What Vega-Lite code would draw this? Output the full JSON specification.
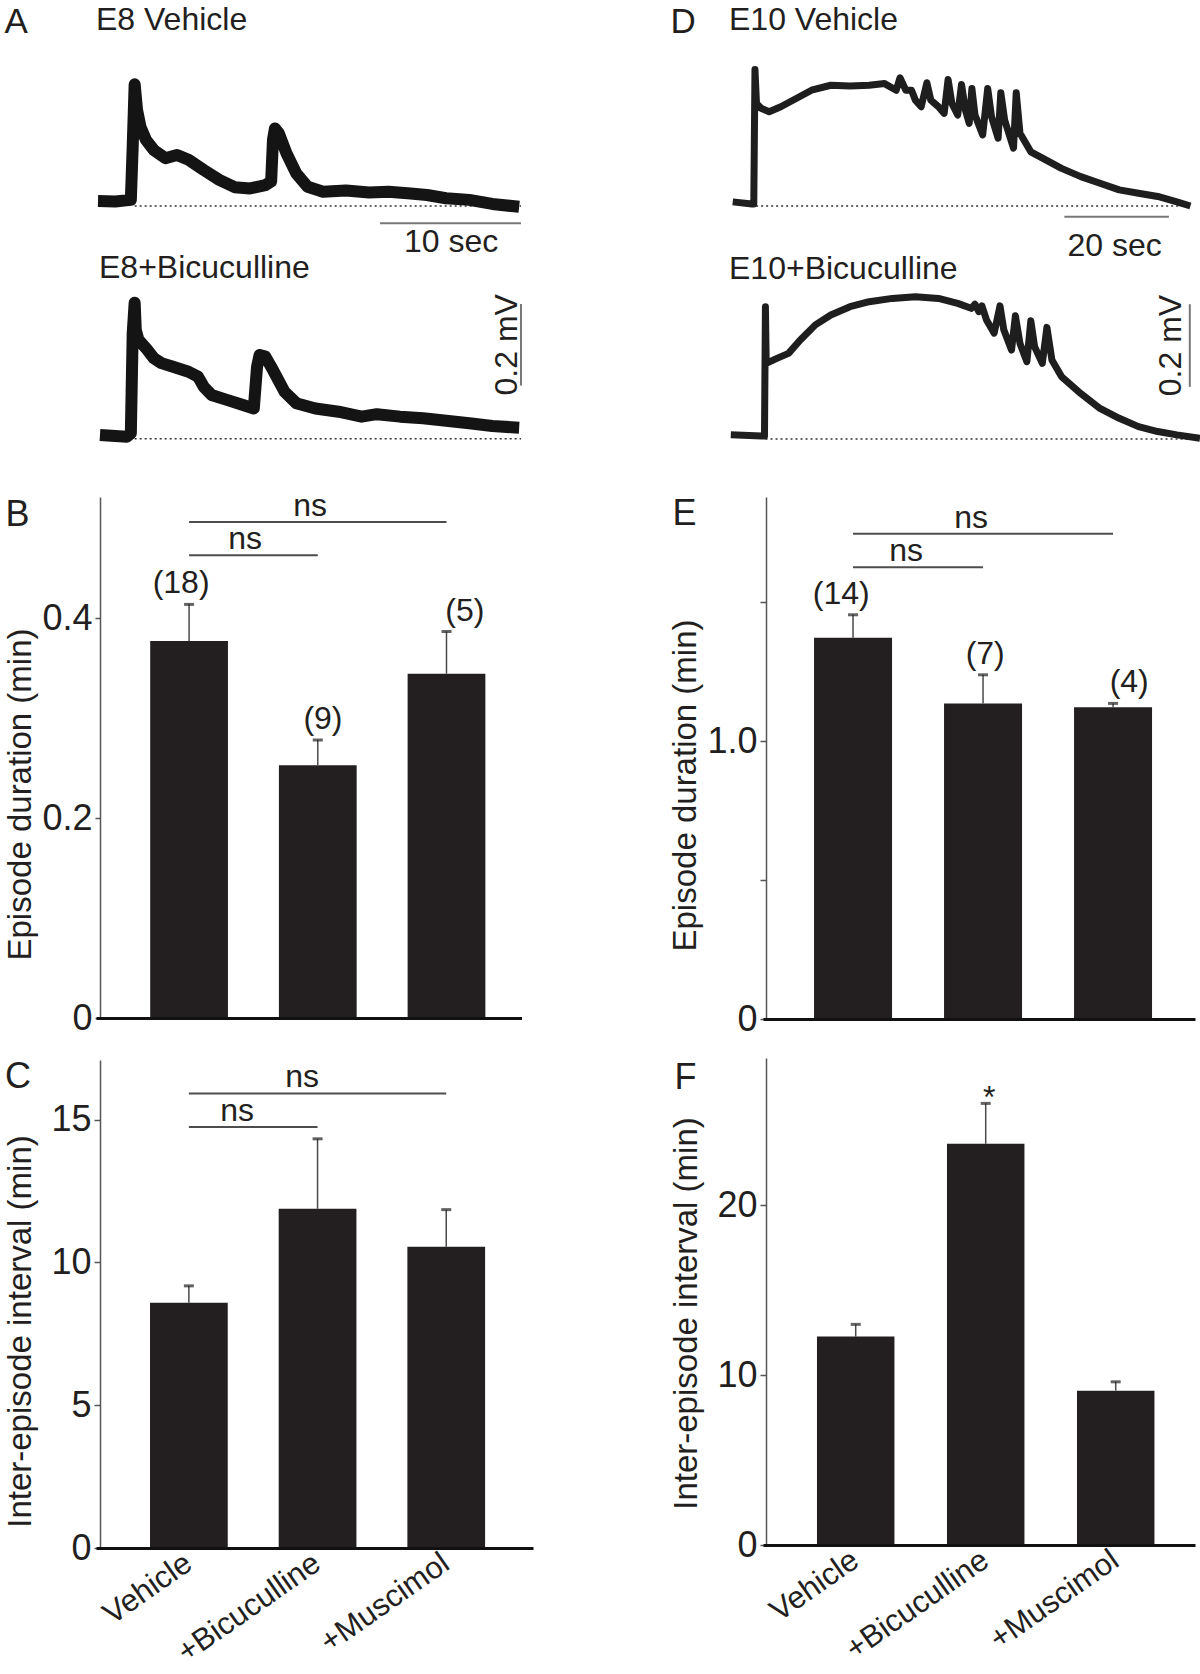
{
"$schema": "https://vega.github.io/schema/vega-lite/v6.json",
"width": 1200, "height": 1674,
"autosize": {"type": "none"},
"padding": 0,
"background": "#ffffff",
"config": {
  "view": {"stroke": null},
  "axis": {"grid": false, "labelFont": "Liberation Sans", "titleFont": "Liberation Sans", "labelColor": "#231f20", "titleColor": "#231f20", "titleFontWeight": "normal", "labelFontWeight": "normal", "titleLimit": 2000, "labelLimit": 1000},
  "text": {"font": "Liberation Sans", "color": "#231f20"}
},
"datasets": {
  "A1": [{"t":0,"v":0.012},{"t":1.23,"v":0.011},{"t":2.33,"v":0.015},{"t":2.46,"v":0.145},{"t":2.6,"v":0.298},{"t":2.77,"v":0.235},{"t":3.01,"v":0.194},{"t":3.4,"v":0.162},{"t":3.96,"v":0.137},{"t":4.78,"v":0.117},{"t":5.6,"v":0.125},{"t":6.42,"v":0.113},{"t":7.5,"v":0.088},{"t":8.6,"v":0.064},{"t":9.69,"v":0.046},{"t":10.78,"v":0.043},{"t":11.87,"v":0.051},{"t":12.28,"v":0.06},{"t":12.41,"v":0.162},{"t":12.55,"v":0.19},{"t":12.82,"v":0.178},{"t":13.37,"v":0.129},{"t":14.06,"v":0.08},{"t":14.87,"v":0.047},{"t":15.96,"v":0.035},{"t":17.59,"v":0.038},{"t":19.23,"v":0.033},{"t":20.6,"v":0.035},{"t":21.96,"v":0.031},{"t":23.33,"v":0.027},{"t":24.68,"v":0.019},{"t":26.33,"v":0.015},{"t":27.96,"v":0.005},{"t":29.87,"v":-0.002}],
  "A2": [{"t":0.14,"v":0.009},{"t":2.05,"v":0.005},{"t":2.33,"v":0.013},{"t":2.46,"v":0.258},{"t":2.6,"v":0.333},{"t":2.68,"v":0.266},{"t":2.87,"v":0.242},{"t":3.42,"v":0.221},{"t":3.96,"v":0.197},{"t":4.5,"v":0.185},{"t":5.32,"v":0.176},{"t":6.42,"v":0.164},{"t":7.09,"v":0.152},{"t":7.5,"v":0.127},{"t":8.05,"v":0.107},{"t":9.14,"v":0.095},{"t":10.23,"v":0.083},{"t":11.05,"v":0.074},{"t":11.28,"v":0.176},{"t":11.46,"v":0.205},{"t":11.87,"v":0.201},{"t":12.41,"v":0.168},{"t":13.23,"v":0.115},{"t":14.06,"v":0.087},{"t":15.42,"v":0.074},{"t":17.06,"v":0.066},{"t":18.69,"v":0.054},{"t":19.78,"v":0.06},{"t":21.42,"v":0.054},{"t":23.05,"v":0.05},{"t":24.7,"v":0.044},{"t":26.33,"v":0.038},{"t":27.96,"v":0.031},{"t":29.87,"v":0.027}],
  "D1": [{"t":0.52,"v":0.01},{"t":4.19,"v":0.005},{"t":4.55,"v":0.005},{"t":4.78,"v":0.33},{"t":5.07,"v":0.248},{"t":6.03,"v":0.236},{"t":7.5,"v":0.228},{"t":9.72,"v":0.24},{"t":12.67,"v":0.26},{"t":15.6,"v":0.28},{"t":19.29,"v":0.292},{"t":22.97,"v":0.29},{"t":26.64,"v":0.292},{"t":29.59,"v":0.296},{"t":31.81,"v":0.28},{"t":32.54,"v":0.31},{"t":33.65,"v":0.28},{"t":34.74,"v":0.28},{"t":35.48,"v":0.256},{"t":36.59,"v":0.24},{"t":37.68,"v":0.298},{"t":38.43,"v":0.256},{"t":39.9,"v":0.24},{"t":40.99,"v":0.224},{"t":41.74,"v":0.306},{"t":42.47,"v":0.248},{"t":43.58,"v":0.22},{"t":44.31,"v":0.294},{"t":45.05,"v":0.232},{"t":45.78,"v":0.2},{"t":46.3,"v":0.284},{"t":46.89,"v":0.22},{"t":48.36,"v":0.172},{"t":49.32,"v":0.284},{"t":50.05,"v":0.216},{"t":51.31,"v":0.164},{"t":51.83,"v":0.274},{"t":52.56,"v":0.208},{"t":54.26,"v":0.14},{"t":54.78,"v":0.274},{"t":55.5,"v":0.176},{"t":57.57,"v":0.131},{"t":60.52,"v":0.111},{"t":63.44,"v":0.091},{"t":67.14,"v":0.071},{"t":70.81,"v":0.055},{"t":74.49,"v":0.039},{"t":78.18,"v":0.031},{"t":81.86,"v":0.023},{"t":85.53,"v":0.01},{"t":88.12,"v":0}],
  "D2": [{"t":0.15,"v":0.01},{"t":6.03,"v":0.007},{"t":6.6,"v":0.007},{"t":6.78,"v":0.32},{"t":6.93,"v":0.183},{"t":8.98,"v":0.195},{"t":11.2,"v":0.207},{"t":13.4,"v":0.239},{"t":16.34,"v":0.276},{"t":19.29,"v":0.3},{"t":22.97,"v":0.32},{"t":26.64,"v":0.332},{"t":31.06,"v":0.34},{"t":35.48,"v":0.344},{"t":39.9,"v":0.34},{"t":43.58,"v":0.328},{"t":46.16,"v":0.316},{"t":46.89,"v":0.326},{"t":47.62,"v":0.308},{"t":48.21,"v":0.322},{"t":49.09,"v":0.288},{"t":50.56,"v":0.256},{"t":51.67,"v":0.322},{"t":52.4,"v":0.264},{"t":53.88,"v":0.215},{"t":54.62,"v":0.298},{"t":55.5,"v":0.231},{"t":56.82,"v":0.187},{"t":57.57,"v":0.286},{"t":58.3,"v":0.223},{"t":59.77,"v":0.183},{"t":60.65,"v":0.27},{"t":61.61,"v":0.191},{"t":63.44,"v":0.151},{"t":67.14,"v":0.11},{"t":70.81,"v":0.074},{"t":74.49,"v":0.05},{"t":78.18,"v":0.03},{"t":81.86,"v":0.018},{"t":85.53,"v":0.01},{"t":89.95,"v":0.002}],
  "B": [{"cond":"Vehicle","mean":0.377,"hi":0.4136,"n":"(18)"},{"cond":"+Bicuculline","mean":0.2528,"hi":0.278,"n":"(9)"},{"cond":"+Muscimol","mean":0.3443,"hi":0.3865,"n":"(5)"}],
  "E": [{"cond":"Vehicle","mean":1.372,"hi":1.455,"n":"(14)"},{"cond":"+Bicuculline","mean":1.136,"hi":1.239,"n":"(7)"},{"cond":"+Muscimol","mean":1.122,"hi":1.136,"n":"(4)"}],
  "C": [{"cond":"Vehicle","mean":8.59,"hi":9.18},{"cond":"+Bicuculline","mean":11.88,"hi":14.33},{"cond":"+Muscimol","mean":10.55,"hi":11.85}],
  "F": [{"cond":"Vehicle","mean":12.26,"hi":12.98,"sig":""},{"cond":"+Bicuculline","mean":23.6,"hi":25.98,"sig":"*"},{"cond":"+Muscimol","mean":9.08,"hi":9.6,"sig":""}],
  "Bbr": [{"from":"Vehicle","to":"+Bicuculline","level":0.4628,"label":"ns"},{"from":"Vehicle","to":"+Muscimol","level":0.496,"label":"ns"}],
  "Ebr": [{"from":"Vehicle","to":"+Bicuculline","level":1.626,"label":"ns"},{"from":"Vehicle","to":"+Muscimol","level":1.747,"label":"ns"}],
  "Cbr": [{"from":"Vehicle","to":"+Bicuculline","level":14.74,"label":"ns"},{"from":"Vehicle","to":"+Muscimol","level":15.92,"label":"ns"}]
},
"layer": [
  {"data": {"values": [{"t0": 2.6, "t1": 30, "v": 0}]},
   "mark": {"type": "rule", "strokeDash": [2, 3], "strokeWidth": 1.5, "color": "#333333"},
   "encoding": {
     "x": {"field": "t0", "type": "quantitative", "scale": {"domain": [0, 30], "range": [98, 521], "nice": false, "zero": false},
           "axis": {"orient": "top", "domain": false, "ticks": false, "labels": false, "title": "E8 Vehicle", "titleX": 95.5, "titleY": 29, "titleAngle": 0, "titleAlign": "left", "titleBaseline": "alphabetic", "titleFontSize": 32}},
     "x2": {"field": "t1"},
     "y": {"field": "v", "type": "quantitative", "scale": {"domain": [0, 0.4], "range": [206, 42.6], "nice": false, "zero": false},
           "axis": {"orient": "left", "domain": false, "ticks": false, "labels": false, "title": "A", "titleX": 4, "titleY": 32, "titleAngle": 0, "titleAlign": "left", "titleBaseline": "alphabetic", "titleFontSize": 35}}
   }},
  {"data": {"name": "A1"},
   "mark": {"type": "line", "color": "#141414", "strokeWidth": 12, "strokeJoin": "round"},
   "encoding": {
     "x": {"field": "t", "type": "quantitative", "scale": {"domain": [0, 30], "range": [98, 521], "nice": false, "zero": false}, "axis": null},
     "y": {"field": "v", "type": "quantitative", "scale": {"domain": [0, 0.4], "range": [206, 42.6], "nice": false, "zero": false}, "axis": null}}},
  {"data": {"values": [{"t0": 20, "t1": 30, "v": -0.0424, "label": "10 sec"}]},
   "mark": {"type": "rule", "color": "#777777", "strokeWidth": 2},
   "encoding": {
     "x": {"field": "t0", "type": "quantitative", "scale": {"domain": [0, 30], "range": [98, 521], "nice": false, "zero": false}, "axis": null},
     "x2": {"field": "t1"},
     "y": {"field": "v", "type": "quantitative", "scale": {"domain": [0, 0.4], "range": [206, 42.6], "nice": false, "zero": false}, "axis": null}}},
  {"data": {"values": [{"t0": 20, "t1": 30, "v": -0.0424, "label": "10 sec"}]},
   "mark": {"type": "text", "fontSize": 32, "align": "left", "baseline": "alphabetic", "dx": 24, "dy": 29},
   "encoding": {
     "x": {"field": "t0", "type": "quantitative", "scale": {"domain": [0, 30], "range": [98, 521], "nice": false, "zero": false}, "axis": null},
     "y": {"field": "v", "type": "quantitative", "scale": {"domain": [0, 0.4], "range": [206, 42.6], "nice": false, "zero": false}, "axis": null},
     "text": {"field": "label"}}},

  {"data": {"values": [{"t0": 2.6, "t1": 30, "v": 0}]},
   "mark": {"type": "rule", "strokeDash": [2, 3], "strokeWidth": 1.5, "color": "#333333"},
   "encoding": {
     "x": {"field": "t0", "type": "quantitative", "scale": {"domain": [0, 30], "range": [98, 521], "nice": false, "zero": false},
           "axis": {"orient": "top", "domain": false, "ticks": false, "labels": false, "title": "E8+Bicuculline", "titleX": 98.5, "titleY": 277, "titleAngle": 0, "titleAlign": "left", "titleBaseline": "alphabetic", "titleFontSize": 32}},
     "x2": {"field": "t1"},
     "y": {"field": "v", "type": "quantitative", "scale": {"domain": [0, 0.4], "range": [438.7, 275.3], "nice": false, "zero": false}, "axis": null}}},
  {"data": {"name": "A2"},
   "mark": {"type": "line", "color": "#141414", "strokeWidth": 12, "strokeJoin": "round"},
   "encoding": {
     "x": {"field": "t", "type": "quantitative", "scale": {"domain": [0, 30], "range": [98, 521], "nice": false, "zero": false}, "axis": null},
     "y": {"field": "v", "type": "quantitative", "scale": {"domain": [0, 0.4], "range": [438.7, 275.3], "nice": false, "zero": false}, "axis": null}}},
  {"data": {"values": [{"t": 30, "v0": 0.13, "v1": 0.33, "vmid": 0.23, "label": "0.2 mV"}]},
   "mark": {"type": "rule", "color": "#777777", "strokeWidth": 2},
   "encoding": {
     "x": {"field": "t", "type": "quantitative", "scale": {"domain": [0, 30], "range": [98, 521], "nice": false, "zero": false}, "axis": null},
     "y": {"field": "v0", "type": "quantitative", "scale": {"domain": [0, 0.4], "range": [438.7, 275.3], "nice": false, "zero": false}, "axis": null},
     "y2": {"field": "v1"}}},
  {"data": {"values": [{"t": 30, "v0": 0.13, "v1": 0.33, "vmid": 0.23, "label": "0.2 mV"}]},
   "mark": {"type": "text", "fontSize": 32, "angle": 270, "align": "center", "baseline": "alphabetic", "dy": -4},
   "encoding": {
     "x": {"field": "t", "type": "quantitative", "scale": {"domain": [0, 30], "range": [98, 521], "nice": false, "zero": false}, "axis": null},
     "y": {"field": "vmid", "type": "quantitative", "scale": {"domain": [0, 0.4], "range": [438.7, 275.3], "nice": false, "zero": false}, "axis": null},
     "text": {"field": "label"}}},

  {"data": {"values": [{"t0": 5, "t1": 88, "v": 0}]},
   "mark": {"type": "rule", "strokeDash": [2, 3], "strokeWidth": 1.5, "color": "#333333"},
   "encoding": {
     "x": {"field": "t0", "type": "quantitative", "scale": {"domain": [0, 90], "range": [730, 1200.25], "nice": false, "zero": false},
           "axis": {"orient": "top", "domain": false, "ticks": false, "labels": false, "title": "E10 Vehicle", "titleX": 728.5, "titleY": 29, "titleAngle": 0, "titleAlign": "left", "titleBaseline": "alphabetic", "titleFontSize": 32}},
     "x2": {"field": "t1"},
     "y": {"field": "v", "type": "quantitative", "scale": {"domain": [0, 0.4], "range": [206, 40.6], "nice": false, "zero": false},
           "axis": {"orient": "left", "domain": false, "ticks": false, "labels": false, "title": "D", "titleX": 670, "titleY": 32, "titleAngle": 0, "titleAlign": "left", "titleBaseline": "alphabetic", "titleFontSize": 35}}}},
  {"data": {"name": "D1"},
   "mark": {"type": "line", "color": "#1e1e1e", "strokeWidth": 7, "strokeJoin": "round"},
   "encoding": {
     "x": {"field": "t", "type": "quantitative", "scale": {"domain": [0, 90], "range": [730, 1200.25], "nice": false, "zero": false}, "axis": null},
     "y": {"field": "v", "type": "quantitative", "scale": {"domain": [0, 0.4], "range": [206, 40.6], "nice": false, "zero": false}, "axis": null}}},
  {"data": {"values": [{"t0": 64, "t1": 84, "v": -0.026, "label": "20 sec"}]},
   "mark": {"type": "rule", "color": "#777777", "strokeWidth": 2},
   "encoding": {
     "x": {"field": "t0", "type": "quantitative", "scale": {"domain": [0, 90], "range": [730, 1200.25], "nice": false, "zero": false}, "axis": null},
     "x2": {"field": "t1"},
     "y": {"field": "v", "type": "quantitative", "scale": {"domain": [0, 0.4], "range": [206, 40.6], "nice": false, "zero": false}, "axis": null}}},
  {"data": {"values": [{"t0": 64, "t1": 84, "v": -0.026, "label": "20 sec"}]},
   "mark": {"type": "text", "fontSize": 32, "align": "left", "baseline": "alphabetic", "dx": 3, "dy": 39},
   "encoding": {
     "x": {"field": "t0", "type": "quantitative", "scale": {"domain": [0, 90], "range": [730, 1200.25], "nice": false, "zero": false}, "axis": null},
     "y": {"field": "v", "type": "quantitative", "scale": {"domain": [0, 0.4], "range": [206, 40.6], "nice": false, "zero": false}, "axis": null},
     "text": {"field": "label"}}},

  {"data": {"values": [{"t0": 6.8, "t1": 89.9, "v": 0}]},
   "mark": {"type": "rule", "strokeDash": [2, 3], "strokeWidth": 1.5, "color": "#333333"},
   "encoding": {
     "x": {"field": "t0", "type": "quantitative", "scale": {"domain": [0, 90], "range": [730, 1200.25], "nice": false, "zero": false},
           "axis": {"orient": "top", "domain": false, "ticks": false, "labels": false, "title": "E10+Bicuculline", "titleX": 728.5, "titleY": 278, "titleAngle": 0, "titleAlign": "left", "titleBaseline": "alphabetic", "titleFontSize": 32}},
     "x2": {"field": "t1"},
     "y": {"field": "v", "type": "quantitative", "scale": {"domain": [0, 0.4], "range": [439, 273.6], "nice": false, "zero": false}, "axis": null}}},
  {"data": {"name": "D2"},
   "mark": {"type": "line", "color": "#1e1e1e", "strokeWidth": 7, "strokeJoin": "round"},
   "encoding": {
     "x": {"field": "t", "type": "quantitative", "scale": {"domain": [0, 90], "range": [730, 1200.25], "nice": false, "zero": false}, "axis": null},
     "y": {"field": "v", "type": "quantitative", "scale": {"domain": [0, 0.4], "range": [439, 273.6], "nice": false, "zero": false}, "axis": null}}},
  {"data": {"values": [{"t": 88, "v0": 0.126, "v1": 0.326, "vmid": 0.226, "label": "0.2 mV"}]},
   "mark": {"type": "rule", "color": "#777777", "strokeWidth": 2},
   "encoding": {
     "x": {"field": "t", "type": "quantitative", "scale": {"domain": [0, 90], "range": [730, 1200.25], "nice": false, "zero": false}, "axis": null},
     "y": {"field": "v0", "type": "quantitative", "scale": {"domain": [0, 0.4], "range": [439, 273.6], "nice": false, "zero": false}, "axis": null},
     "y2": {"field": "v1"}}},
  {"data": {"values": [{"t": 88, "v0": 0.126, "v1": 0.326, "vmid": 0.226, "label": "0.2 mV"}]},
   "mark": {"type": "text", "fontSize": 32, "angle": 270, "align": "center", "baseline": "alphabetic", "dy": -9},
   "encoding": {
     "x": {"field": "t", "type": "quantitative", "scale": {"domain": [0, 90], "range": [730, 1200.25], "nice": false, "zero": false}, "axis": null},
     "y": {"field": "vmid", "type": "quantitative", "scale": {"domain": [0, 0.4], "range": [439, 273.6], "nice": false, "zero": false}, "axis": null},
     "text": {"field": "label"}}},

  {"data": {"name": "B"},
   "mark": {"type": "bar", "color": "#231f20"},
   "encoding": {
     "x": {"field": "cond", "type": "nominal", "sort": null,
           "scale": {"domain": ["Vehicle", "+Bicuculline", "+Muscimol"], "range": [96, 521.5], "paddingInner": 0.396, "paddingOuter": 0.351, "align": 0.6},
           "axis": {"orient": "bottom", "offset": -656, "labels": false, "ticks": false, "domainColor": "#111111", "domainWidth": 3, "zindex": 1, "title": "B", "titleX": 5, "titleY": -492.5, "titleAngle": 0, "titleAlign": "left", "titleBaseline": "alphabetic", "titleFontSize": 36}},
     "y": {"field": "mean", "type": "quantitative",
           "scale": {"domain": [0, 0.521], "range": [1018, 497], "nice": false, "zero": false},
           "axis": {"orient": "left", "offset": -100, "values": [0, 0.2, 0.4], "labelExpr": "datum.value == 0 ? '0' : format(datum.value, '.1f')", "tickSize": 5, "labelPadding": 3, "labelFontSize": 36, "domainColor": "#555555", "domainWidth": 1.5, "tickColor": "#555555", "tickWidth": 1.5, "title": "Episode duration (min)", "titleFontSize": 33, "titleAngle": 270, "titleX": -70, "titleY": 794, "titleAlign": "center", "titleBaseline": "alphabetic"}}}},
  {"data": {"name": "B"},
   "mark": {"type": "rule", "color": "#4a4a4a", "strokeWidth": 1.5},
   "encoding": {
     "x": {"field": "cond", "type": "nominal", "sort": null, "scale": {"domain": ["Vehicle", "+Bicuculline", "+Muscimol"], "range": [96, 521.5], "paddingInner": 0.396, "paddingOuter": 0.351, "align": 0.6}, "axis": null},
     "y": {"field": "mean", "type": "quantitative", "scale": {"domain": [0, 0.521], "range": [1018, 497], "nice": false, "zero": false}, "axis": null},
     "y2": {"field": "hi"}}},
  {"data": {"name": "B"},
   "mark": {"type": "tick", "color": "#231f20", "thickness": 3, "size": 10, "orient": "horizontal"},
   "encoding": {
     "x": {"field": "cond", "type": "nominal", "sort": null, "scale": {"domain": ["Vehicle", "+Bicuculline", "+Muscimol"], "range": [96, 521.5], "paddingInner": 0.396, "paddingOuter": 0.351, "align": 0.6}, "axis": null},
     "y": {"field": "hi", "type": "quantitative", "scale": {"domain": [0, 0.521], "range": [1018, 497], "nice": false, "zero": false}, "axis": null}}},
  {"data": {"name": "B"},
   "mark": {"type": "text", "fontSize": 32, "dy": -11, "baseline": "alphabetic", "align": "center"},
   "encoding": {
     "x": {"field": "cond", "type": "nominal", "sort": null, "scale": {"domain": ["Vehicle", "+Bicuculline", "+Muscimol"], "range": [96, 521.5], "paddingInner": 0.396, "paddingOuter": 0.351, "align": 0.6}, "axis": null},
     "y": {"field": "hi", "type": "quantitative", "scale": {"domain": [0, 0.521], "range": [1018, 497], "nice": false, "zero": false}, "axis": null},
     "text": {"field": "n"}}},
  {"data": {"name": "Bbr"},
   "mark": {"type": "rule", "color": "#4d4d4d", "strokeWidth": 2},
   "encoding": {
     "x": {"field": "from", "type": "nominal", "scale": {"domain": ["Vehicle", "+Bicuculline", "+Muscimol"], "range": [96, 521.5], "paddingInner": 0.396, "paddingOuter": 0.351, "align": 0.6}, "axis": null},
     "x2": {"field": "to"},
     "y": {"field": "level", "type": "quantitative", "scale": {"domain": [0, 0.521], "range": [1018, 497], "nice": false, "zero": false}, "axis": null}}},
  {"data": {"name": "Bbr"},
   "transform": [{"filter": "datum.to == '+Bicuculline'"}],
   "mark": {"type": "text", "fontSize": 32, "dx": 64, "dy": -6, "baseline": "alphabetic", "align": "center"},
   "encoding": {
     "x": {"field": "from", "type": "nominal", "scale": {"domain": ["Vehicle", "+Bicuculline", "+Muscimol"], "range": [96, 521.5], "paddingInner": 0.396, "paddingOuter": 0.351, "align": 0.6}, "axis": null},
     "y": {"field": "level", "type": "quantitative", "scale": {"domain": [0, 0.521], "range": [1018, 497], "nice": false, "zero": false}, "axis": null},
     "text": {"field": "label"}}},
  {"data": {"name": "Bbr"},
   "transform": [{"filter": "datum.to == '+Muscimol'"}],
   "mark": {"type": "text", "fontSize": 32, "dx": 129, "dy": -6, "baseline": "alphabetic", "align": "center"},
   "encoding": {
     "x": {"field": "from", "type": "nominal", "scale": {"domain": ["Vehicle", "+Bicuculline", "+Muscimol"], "range": [96, 521.5], "paddingInner": 0.396, "paddingOuter": 0.351, "align": 0.6}, "axis": null},
     "y": {"field": "level", "type": "quantitative", "scale": {"domain": [0, 0.521], "range": [1018, 497], "nice": false, "zero": false}, "axis": null},
     "text": {"field": "label"}}},

  {"data": {"name": "E"},
   "mark": {"type": "bar", "color": "#231f20"},
   "encoding": {
     "x": {"field": "cond", "type": "nominal", "sort": null,
           "scale": {"domain": ["Vehicle", "+Bicuculline", "+Muscimol"], "range": [763, 1195], "paddingInner": 0.4, "paddingOuter": 0.3615, "align": 0.543},
           "axis": {"orient": "bottom", "offset": -655, "labels": false, "ticks": false, "domainColor": "#111111", "domainWidth": 3, "zindex": 1, "title": "E", "titleX": 672, "titleY": -495, "titleAngle": 0, "titleAlign": "left", "titleBaseline": "alphabetic", "titleFontSize": 36}},
     "y": {"field": "mean", "type": "quantitative",
           "scale": {"domain": [0, 1.879], "range": [1019, 497], "nice": false, "zero": false},
           "axis": {"orient": "left", "offset": -766, "values": [0, 0.5, 1, 1.5], "labelExpr": "datum.value == 0 ? '0' : (datum.value == 1 ? '1.0' : '')", "tickSize": 6, "labelPadding": 3, "labelFontSize": 36, "domainColor": "#555555", "domainWidth": 1.5, "tickColor": "#555555", "tickWidth": 1.5, "title": "Episode duration (min)", "titleFontSize": 33, "titleAngle": 270, "titleX": -71, "titleY": 785, "titleAlign": "center", "titleBaseline": "alphabetic"}}}},
  {"data": {"name": "E"},
   "mark": {"type": "rule", "color": "#4a4a4a", "strokeWidth": 1.5},
   "encoding": {
     "x": {"field": "cond", "type": "nominal", "sort": null, "scale": {"domain": ["Vehicle", "+Bicuculline", "+Muscimol"], "range": [763, 1195], "paddingInner": 0.4, "paddingOuter": 0.3615, "align": 0.543}, "axis": null},
     "y": {"field": "mean", "type": "quantitative", "scale": {"domain": [0, 1.879], "range": [1019, 497], "nice": false, "zero": false}, "axis": null},
     "y2": {"field": "hi"}}},
  {"data": {"name": "E"},
   "mark": {"type": "tick", "color": "#231f20", "thickness": 3, "size": 10, "orient": "horizontal"},
   "encoding": {
     "x": {"field": "cond", "type": "nominal", "sort": null, "scale": {"domain": ["Vehicle", "+Bicuculline", "+Muscimol"], "range": [763, 1195], "paddingInner": 0.4, "paddingOuter": 0.3615, "align": 0.543}, "axis": null},
     "y": {"field": "hi", "type": "quantitative", "scale": {"domain": [0, 1.879], "range": [1019, 497], "nice": false, "zero": false}, "axis": null}}},
  {"data": {"name": "E"},
   "mark": {"type": "text", "fontSize": 32, "dy": -11, "baseline": "alphabetic", "align": "center"},
   "encoding": {
     "x": {"field": "cond", "type": "nominal", "sort": null, "scale": {"domain": ["Vehicle", "+Bicuculline", "+Muscimol"], "range": [763, 1195], "paddingInner": 0.4, "paddingOuter": 0.3615, "align": 0.543}, "axis": null},
     "y": {"field": "hi", "type": "quantitative", "scale": {"domain": [0, 1.879], "range": [1019, 497], "nice": false, "zero": false}, "axis": null},
     "text": {"field": "n"}}},
  {"data": {"name": "Ebr"},
   "mark": {"type": "rule", "color": "#4d4d4d", "strokeWidth": 2},
   "encoding": {
     "x": {"field": "from", "type": "nominal", "scale": {"domain": ["Vehicle", "+Bicuculline", "+Muscimol"], "range": [763, 1195], "paddingInner": 0.4, "paddingOuter": 0.3615, "align": 0.543}, "axis": null},
     "x2": {"field": "to"},
     "y": {"field": "level", "type": "quantitative", "scale": {"domain": [0, 1.879], "range": [1019, 497], "nice": false, "zero": false}, "axis": null}}},
  {"data": {"name": "Ebr"},
   "transform": [{"filter": "datum.to == '+Bicuculline'"}],
   "mark": {"type": "text", "fontSize": 32, "dx": 65, "dy": -6, "baseline": "alphabetic", "align": "center"},
   "encoding": {
     "x": {"field": "from", "type": "nominal", "scale": {"domain": ["Vehicle", "+Bicuculline", "+Muscimol"], "range": [763, 1195], "paddingInner": 0.4, "paddingOuter": 0.3615, "align": 0.543}, "axis": null},
     "y": {"field": "level", "type": "quantitative", "scale": {"domain": [0, 1.879], "range": [1019, 497], "nice": false, "zero": false}, "axis": null},
     "text": {"field": "label"}}},
  {"data": {"name": "Ebr"},
   "transform": [{"filter": "datum.to == '+Muscimol'"}],
   "mark": {"type": "text", "fontSize": 32, "dx": 130, "dy": -6, "baseline": "alphabetic", "align": "center"},
   "encoding": {
     "x": {"field": "from", "type": "nominal", "scale": {"domain": ["Vehicle", "+Bicuculline", "+Muscimol"], "range": [763, 1195], "paddingInner": 0.4, "paddingOuter": 0.3615, "align": 0.543}, "axis": null},
     "y": {"field": "level", "type": "quantitative", "scale": {"domain": [0, 1.879], "range": [1019, 497], "nice": false, "zero": false}, "axis": null},
     "text": {"field": "label"}}},

  {"data": {"name": "C"},
   "mark": {"type": "bar", "color": "#231f20"},
   "encoding": {
     "x": {"field": "cond", "type": "nominal", "sort": null,
           "scale": {"domain": ["Vehicle", "+Bicuculline", "+Muscimol"], "range": [96, 533], "paddingInner": 0.396, "paddingOuter": 0.396, "align": 0.53},
           "axis": {"orient": "bottom", "offset": -126, "labels": true, "labelAngle": -35, "labelFontSize": 31, "labelPadding": 12, "labelBaseline": "middle", "labelAlign": "right", "ticks": false, "domainColor": "#111111", "domainWidth": 3, "zindex": 1, "title": "C", "titleX": 4.5, "titleY": -461, "titleAngle": 0, "titleAlign": "left", "titleBaseline": "alphabetic", "titleFontSize": 36}},
     "y": {"field": "mean", "type": "quantitative",
           "scale": {"domain": [0, 17.09], "range": [1548, 1060], "nice": false, "zero": false},
           "axis": {"orient": "left", "offset": -100, "values": [0, 5, 10, 15], "format": "d", "tickSize": 6, "labelPadding": 3, "labelFontSize": 36, "domainColor": "#555555", "domainWidth": 1.5, "tickColor": "#555555", "tickWidth": 1.5, "title": "Inter-episode interval (min)", "titleFontSize": 33, "titleAngle": 270, "titleX": -70, "titleY": 1331, "titleAlign": "center", "titleBaseline": "alphabetic"}}}},
  {"data": {"name": "C"},
   "mark": {"type": "rule", "color": "#4a4a4a", "strokeWidth": 1.5},
   "encoding": {
     "x": {"field": "cond", "type": "nominal", "sort": null, "scale": {"domain": ["Vehicle", "+Bicuculline", "+Muscimol"], "range": [96, 533], "paddingInner": 0.396, "paddingOuter": 0.396, "align": 0.53}, "axis": null},
     "y": {"field": "mean", "type": "quantitative", "scale": {"domain": [0, 17.09], "range": [1548, 1060], "nice": false, "zero": false}, "axis": null},
     "y2": {"field": "hi"}}},
  {"data": {"name": "C"},
   "mark": {"type": "tick", "color": "#231f20", "thickness": 3, "size": 10, "orient": "horizontal"},
   "encoding": {
     "x": {"field": "cond", "type": "nominal", "sort": null, "scale": {"domain": ["Vehicle", "+Bicuculline", "+Muscimol"], "range": [96, 533], "paddingInner": 0.396, "paddingOuter": 0.396, "align": 0.53}, "axis": null},
     "y": {"field": "hi", "type": "quantitative", "scale": {"domain": [0, 17.09], "range": [1548, 1060], "nice": false, "zero": false}, "axis": null}}},
  {"data": {"name": "Cbr"},
   "mark": {"type": "rule", "color": "#4d4d4d", "strokeWidth": 2},
   "encoding": {
     "x": {"field": "from", "type": "nominal", "scale": {"domain": ["Vehicle", "+Bicuculline", "+Muscimol"], "range": [96, 533], "paddingInner": 0.396, "paddingOuter": 0.396, "align": 0.53}, "axis": null},
     "x2": {"field": "to"},
     "y": {"field": "level", "type": "quantitative", "scale": {"domain": [0, 17.09], "range": [1548, 1060], "nice": false, "zero": false}, "axis": null}}},
  {"data": {"name": "Cbr"},
   "transform": [{"filter": "datum.to == '+Bicuculline'"}],
   "mark": {"type": "text", "fontSize": 32, "dx": 64, "dy": -6, "baseline": "alphabetic", "align": "center"},
   "encoding": {
     "x": {"field": "from", "type": "nominal", "scale": {"domain": ["Vehicle", "+Bicuculline", "+Muscimol"], "range": [96, 533], "paddingInner": 0.396, "paddingOuter": 0.396, "align": 0.53}, "axis": null},
     "y": {"field": "level", "type": "quantitative", "scale": {"domain": [0, 17.09], "range": [1548, 1060], "nice": false, "zero": false}, "axis": null},
     "text": {"field": "label"}}},
  {"data": {"name": "Cbr"},
   "transform": [{"filter": "datum.to == '+Muscimol'"}],
   "mark": {"type": "text", "fontSize": 32, "dx": 129, "dy": -6, "baseline": "alphabetic", "align": "center"},
   "encoding": {
     "x": {"field": "from", "type": "nominal", "scale": {"domain": ["Vehicle", "+Bicuculline", "+Muscimol"], "range": [96, 533], "paddingInner": 0.396, "paddingOuter": 0.396, "align": 0.53}, "axis": null},
     "y": {"field": "level", "type": "quantitative", "scale": {"domain": [0, 17.09], "range": [1548, 1060], "nice": false, "zero": false}, "axis": null},
     "text": {"field": "label"}}},

  {"data": {"name": "F"},
   "mark": {"type": "bar", "color": "#231f20"},
   "encoding": {
     "x": {"field": "cond", "type": "nominal", "sort": null,
           "scale": {"domain": ["Vehicle", "+Bicuculline", "+Muscimol"], "range": [763, 1195], "paddingInner": 0.404, "paddingOuter": 0.3635, "align": 0.571},
           "axis": {"orient": "bottom", "offset": -129, "labels": true, "labelAngle": -35, "labelFontSize": 31, "labelPadding": 12, "labelBaseline": "middle", "labelAlign": "right", "ticks": false, "domainColor": "#111111", "domainWidth": 3, "zindex": 1, "title": "F", "titleX": 674, "titleY": -457, "titleAngle": 0, "titleAlign": "left", "titleBaseline": "alphabetic", "titleFontSize": 36}},
     "y": {"field": "mean", "type": "quantitative",
           "scale": {"domain": [0, 28.65], "range": [1545, 1058], "nice": false, "zero": false},
           "axis": {"orient": "left", "offset": -766, "values": [0, 10, 20], "format": "d", "tickSize": 6, "labelPadding": 3, "labelFontSize": 36, "domainColor": "#555555", "domainWidth": 1.5, "tickColor": "#555555", "tickWidth": 1.5, "title": "Inter-episode interval (min)", "titleFontSize": 33, "titleAngle": 270, "titleX": -70, "titleY": 1313, "titleAlign": "center", "titleBaseline": "alphabetic"}}}},
  {"data": {"name": "F"},
   "mark": {"type": "rule", "color": "#4a4a4a", "strokeWidth": 1.5},
   "encoding": {
     "x": {"field": "cond", "type": "nominal", "sort": null, "scale": {"domain": ["Vehicle", "+Bicuculline", "+Muscimol"], "range": [763, 1195], "paddingInner": 0.404, "paddingOuter": 0.3635, "align": 0.571}, "axis": null},
     "y": {"field": "mean", "type": "quantitative", "scale": {"domain": [0, 28.65], "range": [1545, 1058], "nice": false, "zero": false}, "axis": null},
     "y2": {"field": "hi"}}},
  {"data": {"name": "F"},
   "mark": {"type": "tick", "color": "#231f20", "thickness": 3, "size": 10, "orient": "horizontal"},
   "encoding": {
     "x": {"field": "cond", "type": "nominal", "sort": null, "scale": {"domain": ["Vehicle", "+Bicuculline", "+Muscimol"], "range": [763, 1195], "paddingInner": 0.404, "paddingOuter": 0.3635, "align": 0.571}, "axis": null},
     "y": {"field": "hi", "type": "quantitative", "scale": {"domain": [0, 28.65], "range": [1545, 1058], "nice": false, "zero": false}, "axis": null}}},
  {"data": {"name": "F"},
   "mark": {"type": "text", "fontSize": 32, "dy": 5, "baseline": "alphabetic", "align": "center"},
   "encoding": {
     "x": {"field": "cond", "type": "nominal", "sort": null, "scale": {"domain": ["Vehicle", "+Bicuculline", "+Muscimol"], "range": [763, 1195], "paddingInner": 0.404, "paddingOuter": 0.3635, "align": 0.571}, "axis": null},
     "y": {"field": "hi", "type": "quantitative", "scale": {"domain": [0, 28.65], "range": [1545, 1058], "nice": false, "zero": false}, "axis": null},
     "text": {"field": "sig"}}}
],
"resolve": {"scale": {"x": "independent", "y": "independent"}}
}
